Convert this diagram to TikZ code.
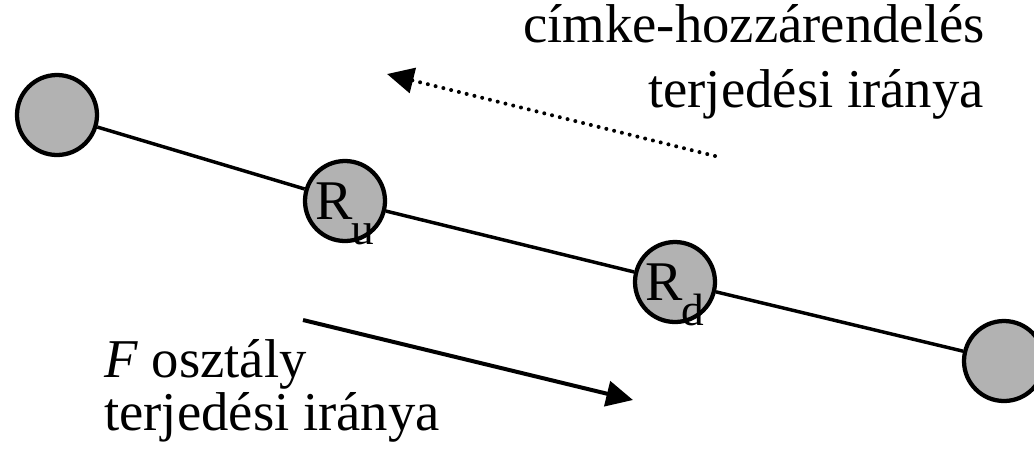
\documentclass[tikz,border=0pt]{standalone}
\usepackage{fontspec}
\setmainfont{Liberation Serif}
\usepackage{tikz}
\usetikzlibrary{arrows.meta}
\definecolor{nodegray}{HTML}{B2B2B2}
\tikzset{
  rt/.style={circle,draw=black,line width=3.2pt,fill=nodegray,minimum size=60pt,inner sep=0pt,
    font=\fontsize{42}{42}\selectfont,text height=27pt,text depth=0pt},
  lnk/.style={line width=2.6pt,black},
  flow/.style={-{Triangle[length=20pt,width=19pt]},line width=3pt},
  lblflow/.style={-{Triangle[length=20pt,width=19pt]},line width=3pt,dash pattern=on 0pt off 6pt,line cap=round},
  lbl/.style={font=\fontsize{41}{41}\selectfont,inner sep=0pt}
}
\newcommand{\rsub}[1]{R\kern-1pt\raisebox{-0.45em}{\fontsize{34}{34}\selectfont #1}}

\begin{document}
\begin{tikzpicture}[x=0.75pt,y=-0.75pt]
\useasboundingbox (0,0) rectangle (1034,455);
% routers along the path
\node[rt] (r0) at (57,115) {};
\node[rt] (ru) at (345,201) {\rsub{u}};
\node[rt] (rd) at (675,282) {\rsub{d}};
\node[rt] (r3) at (1004,361) {};
\draw[lnk] (r0) -- (ru) -- (rd) -- (r3);
% label distribution direction
\coordinate (dotS) at (715,156);
\coordinate (dotE) at (387,74);
\draw[lblflow] (dotS) -- (dotE);
\node[lbl,anchor=base east] (ta1) at (985,42) {címke-hozzárendelés};
\node[lbl,anchor=base east] (ta2) at (984,107) {terjedési iránya};
% F class direction
\coordinate (flS) at (303,320);
\coordinate (flE) at (633,400);
\draw[flow] (flS) -- (flE);
\node[lbl,anchor=base west] (tb1) at (104,377) {\textit{F} osztály};
\node[lbl,anchor=base west] (tb2) at (104,430) {terjedési iránya};
\end{tikzpicture}
\end{document}
